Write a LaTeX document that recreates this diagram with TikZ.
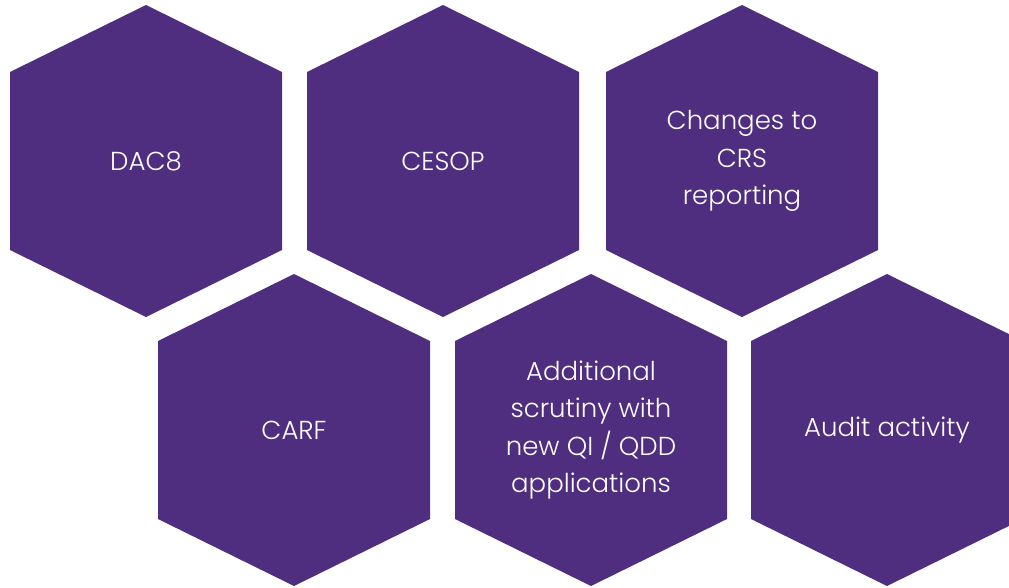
\documentclass[tikz,border=0pt]{standalone}
\usepackage{fontspec}
\setmainfont{Poppins}[UprightFont=* Light]
\usetikzlibrary{backgrounds}
\definecolor{gtpurple}{HTML}{4F2D7F}

\begin{document}
\begin{tikzpicture}[
x=1pt, y=-1pt,
hexlabel/.style={inner sep=0pt, text=white, align=center,
  font=\fontsize{26}{37.5}\selectfont}
]

\useasboundingbox (0,0) rectangle (1009,587);
\clip (0,0) rectangle (1009,587);

% top row
\node (dac) at (146, 161) [hexlabel] {DAC8};
\node (cesop) at (443, 161) [hexlabel] {CESOP};
\node (crs) at (742, 161) [hexlabel] {Changes to\\CRS\\reporting};

% bottom row
\node (carf) at (294, 430) [hexlabel] {CARF};
\node (qi) at (591, 430) [hexlabel] {Additional\\scrutiny with\\new QI / QDD\\applications};
\node (audit) at (887, 430) [hexlabel] {Audit activity};

% hexagons behind the labels
\begin{scope}[on background layer]
\foreach \n in {dac, cesop, crs, carf, qi, audit}
  \fill[gtpurple] (\n.center) ++(0,-156) -- ++(136,67) -- ++(0,178)
    -- ++(-136,67) -- ++(-136,-67) -- ++(0,-178) -- cycle;
\end{scope}

\end{tikzpicture}
\end{document}
